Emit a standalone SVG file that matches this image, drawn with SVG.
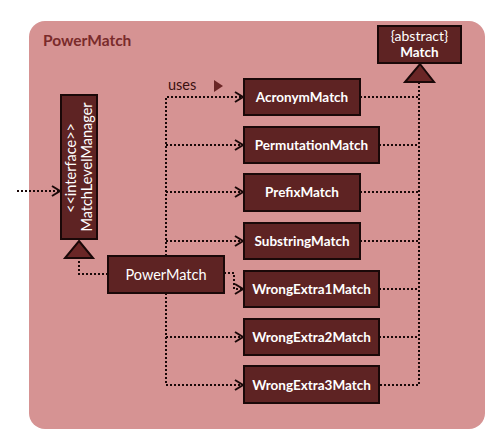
<svg xmlns="http://www.w3.org/2000/svg" width="500" height="442" viewBox="0 0 500 442">
<style>
.cls rect{fill:#5e2323;stroke:#1a0808;stroke-width:2}
.cls text{fill:#fff;font-family:Lato,"Liberation Sans",sans-serif;font-size:13.5px;font-weight:bold;text-anchor:middle}
.cls text.n{font-weight:normal;font-size:14.5px}
.dot{fill:none;stroke:#1a0808;stroke-width:2;stroke-dasharray:2 2}
.tri{fill:#6a2626;stroke:#1a0808;stroke-width:2}
</style>
<defs>
<marker id="open" markerWidth="12" markerHeight="12" refX="9" refY="6" orient="auto" markerUnits="userSpaceOnUse">
<path d="M1,1 L9,6 L1,11" fill="none" stroke="#1a0808" stroke-width="2"/>
</marker>
</defs>
<rect width="500" height="442" fill="#fff"/>
<rect id="package" x="29" y="21" width="456" height="408" rx="16" fill="#d69393"/>
<text x="43" y="46" font-family="Lato,'Liberation Sans',sans-serif" font-size="15.5" font-weight="bold" fill="#7a2b2b">PowerMatch</text>
<g id="connectors">
<path class="dot" d="M17,191 H60" marker-end="url(#open)"/>
<path class="dot" d="M166,256 V97 H243" marker-end="url(#open)"/>
<path class="dot" d="M166,145 H243" marker-end="url(#open)"/>
<path class="dot" d="M166,192 H243" marker-end="url(#open)"/>
<path class="dot" d="M166,241 H243" marker-end="url(#open)"/>
<path class="dot" d="M166,293 V385 H243" marker-end="url(#open)"/>
<path class="dot" d="M166,337 H243" marker-end="url(#open)"/>
<path class="dot" d="M224,273 H234 V289 H243" marker-end="url(#open)"/>
<path class="dot" d="M108,274 H79 V258"/>
<path class="dot" d="M419,82 V385 H380"/>
<path class="dot" d="M360,97 H419 M379,145 H419 M360,192 H419 M360,241 H419 M379,289 H419 M379,337 H419"/>
<polygon class="tri" points="79,241 93,258 65,258"/>
<polygon class="tri" points="420,64 434,82 405,82"/>
<text x="168" y="90" font-family="Lato,'Liberation Sans',sans-serif" font-size="14.5" fill="#3a1010">uses</text>
<polygon points="214,80 223,86 214,92" fill="#6a2626"/>
</g>
<g id="MatchLevelManager" class="cls">
<rect x="61" y="95" width="36" height="144"/>
<text class="n" transform="translate(76,168) rotate(-90)">&lt;&lt;interface&gt;&gt;</text>
<text class="n" transform="translate(92,167) rotate(-90)">MatchLevelManager</text>
</g>
<g id="PowerMatchNode" class="cls">
<rect x="108" y="256" width="116" height="37"/>
<text class="n" x="166" y="280">PowerMatch</text>
</g>
<g id="Match" class="cls">
<rect x="378" y="26" width="83" height="37"/>
<text class="n" x="419.5" y="41" style="font-size:14px">{abstract}</text>
<text x="419.5" y="57">Match</text>
</g>
<g id="AcronymMatch" class="cls"><rect x="244" y="79" width="116" height="36"/><text x="302" y="102">AcronymMatch</text></g>
<g id="PermutationMatch" class="cls"><rect x="244" y="127" width="135" height="36"/><text x="311.5" y="150">PermutationMatch</text></g>
<g id="PrefixMatch" class="cls"><rect x="244" y="174" width="116" height="37"/><text x="302" y="197">PrefixMatch</text></g>
<g id="SubstringMatch" class="cls"><rect x="244" y="223" width="116" height="36"/><text x="302" y="246">SubstringMatch</text></g>
<g id="WrongExtra1Match" class="cls"><rect x="244" y="271" width="135" height="36"/><text x="311.5" y="294">WrongExtra1Match</text></g>
<g id="WrongExtra2Match" class="cls"><rect x="244" y="319" width="135" height="36"/><text x="311.5" y="342">WrongExtra2Match</text></g>
<g id="WrongExtra3Match" class="cls"><rect x="244" y="366" width="135" height="37"/><text x="311.5" y="390">WrongExtra3Match</text></g>
</svg>
